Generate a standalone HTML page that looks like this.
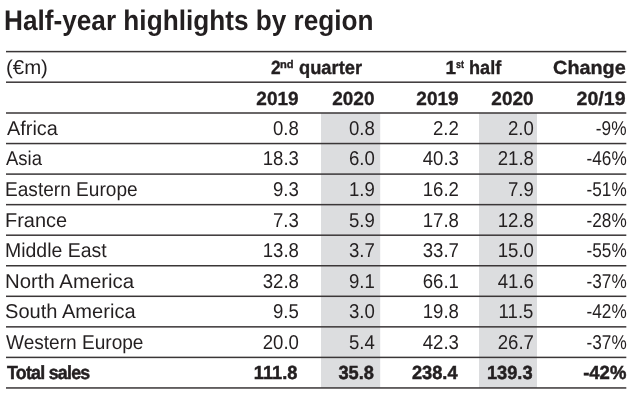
<!DOCTYPE html>
<html><head><meta charset="utf-8"><style>
html,body{margin:0;padding:0;background:#fff;}
body{width:640px;height:406px;position:relative;overflow:hidden;font-family:"Liberation Sans", Arial, sans-serif;color:#231f20;text-rendering:geometricPrecision;}
.t{position:absolute;white-space:nowrap;}
sup{font-size:58%;line-height:0;vertical-align:0;position:relative;top:-0.62em;margin-left:0.5px;}
svg{position:absolute;left:0;top:0;}
</style></head><body>
<svg width="640" height="406" viewBox="0 0 640 406"><rect x="321" y="113.00" width="59.20" height="274.95" fill="#dcdddf"/><rect x="479" y="113.00" width="58.00" height="274.95" fill="#dcdddf"/><rect x="6" y="50.85" width="620.30" height="1.5" fill="#3a3637"/><rect x="6" y="81.45" width="620.30" height="1.5" fill="#3a3637"/><rect x="6" y="112.25" width="620.30" height="1.5" fill="#3a3637"/><rect x="6" y="142.80" width="620.30" height="1.5" fill="#3a3637"/><rect x="6" y="173.35" width="620.30" height="1.5" fill="#3a3637"/><rect x="6" y="203.90" width="620.30" height="1.5" fill="#3a3637"/><rect x="6" y="234.45" width="620.30" height="1.5" fill="#3a3637"/><rect x="6" y="265.00" width="620.30" height="1.5" fill="#3a3637"/><rect x="6" y="295.55" width="620.30" height="1.5" fill="#3a3637"/><rect x="6" y="326.10" width="620.30" height="1.5" fill="#3a3637"/><rect x="6" y="356.65" width="620.30" height="1.5" fill="#3a3637"/><rect x="6" y="387.20" width="620.30" height="1.5" fill="#3a3637"/></svg>
<div id="title" class="t" style="left:4.44px;top:6.00px;font-size:28.3px;line-height:28.3px;font-weight:700;transform:scaleX(0.9255);transform-origin:left center;">Half-year highlights by region</div>
<div id="em" class="t" style="left:5.93px;top:58.00px;font-size:20px;line-height:20px;font-weight:400;transform:scaleX(1.0195);transform-origin:left center;">(€m)</div>
<div id="q2a" class="t" style="left:271.00px;top:59.00px;font-size:19px;line-height:19px;font-weight:700;transform:scaleX(0.9124);transform-origin:left center;-webkit-text-stroke:0.35px #231f20;">2</div>
<div id="q2b" class="t" style="left:280.03px;top:60.00px;font-size:11px;line-height:11px;font-weight:700;transform:scaleX(1.0128);transform-origin:left center;-webkit-text-stroke:0.35px #231f20;">nd</div>
<div id="q2c" class="t" style="left:299.49px;top:59.00px;font-size:19px;line-height:19px;font-weight:700;transform:scaleX(0.9631);transform-origin:left center;-webkit-text-stroke:0.35px #231f20;">quarter</div>
<div id="h1a" class="t" style="left:445.60px;top:59.00px;font-size:19px;line-height:19px;font-weight:700;-webkit-text-stroke:0.35px #231f20;">1</div>
<div id="h1b" class="t" style="left:455.89px;top:60.00px;font-size:11px;line-height:11px;font-weight:700;transform:scaleX(0.8031);transform-origin:left center;-webkit-text-stroke:0.35px #231f20;">st</div>
<div id="h1c" class="t" style="left:468.65px;top:59.00px;font-size:19px;line-height:19px;font-weight:700;transform:scaleX(0.9539);transform-origin:left center;-webkit-text-stroke:0.35px #231f20;">half</div>
<div id="chg" class="t" style="right:13.88px;text-align:right;top:59.00px;font-size:19px;line-height:19px;font-weight:700;transform:scaleX(1.0419);transform-origin:right center;-webkit-text-stroke:0.35px #231f20;">Change</div>
<div id="h2_0" class="t" style="right:341.40px;text-align:right;top:90.00px;font-size:19px;line-height:19px;font-weight:700;-webkit-text-stroke:0.35px #231f20;">2019</div>
<div id="h2_1" class="t" style="right:265.50px;text-align:right;top:90.00px;font-size:19px;line-height:19px;font-weight:700;-webkit-text-stroke:0.35px #231f20;">2020</div>
<div id="h2_2" class="t" style="right:181.40px;text-align:right;top:90.00px;font-size:19px;line-height:19px;font-weight:700;-webkit-text-stroke:0.35px #231f20;">2019</div>
<div id="h2_3" class="t" style="right:106.40px;text-align:right;top:90.00px;font-size:19px;line-height:19px;font-weight:700;-webkit-text-stroke:0.35px #231f20;">2020</div>
<div id="h2_4" class="t" style="right:14.67px;text-align:right;top:90.00px;font-size:19px;line-height:19px;font-weight:700;transform:scaleX(1.0301);transform-origin:right center;-webkit-text-stroke:0.35px #231f20;">20/19</div>
<div id="lab0" class="t" style="left:6.96px;top:119.00px;font-size:20px;line-height:20px;font-weight:400;transform:scaleX(0.9936);transform-origin:left center;">Africa</div>
<div id="v0_0" class="t" style="right:341.40px;text-align:right;top:119.00px;font-size:20px;line-height:20px;font-weight:400;transform:scaleX(0.9300);transform-origin:right center;">0.8</div>
<div id="v0_1" class="t" style="right:265.50px;text-align:right;top:119.00px;font-size:20px;line-height:20px;font-weight:400;transform:scaleX(0.9300);transform-origin:right center;">0.8</div>
<div id="v0_2" class="t" style="right:181.40px;text-align:right;top:119.00px;font-size:20px;line-height:20px;font-weight:400;transform:scaleX(0.9300);transform-origin:right center;">2.2</div>
<div id="v0_3" class="t" style="right:106.40px;text-align:right;top:119.00px;font-size:20px;line-height:20px;font-weight:400;transform:scaleX(0.9300);transform-origin:right center;">2.0</div>
<div id="v0_4" class="t" style="right:13.26px;text-align:right;top:119.00px;font-size:20px;line-height:20px;font-weight:400;transform:scaleX(0.8637);transform-origin:right center;">-9%</div>
<div id="lab1" class="t" style="left:6.30px;top:149.00px;font-size:20px;line-height:20px;font-weight:400;transform:scaleX(0.9245);transform-origin:left center;">Asia</div>
<div id="v1_0" class="t" style="right:341.40px;text-align:right;top:149.00px;font-size:20px;line-height:20px;font-weight:400;transform:scaleX(0.9300);transform-origin:right center;">18.3</div>
<div id="v1_1" class="t" style="right:265.50px;text-align:right;top:149.00px;font-size:20px;line-height:20px;font-weight:400;transform:scaleX(0.9300);transform-origin:right center;">6.0</div>
<div id="v1_2" class="t" style="right:181.40px;text-align:right;top:149.00px;font-size:20px;line-height:20px;font-weight:400;transform:scaleX(0.9300);transform-origin:right center;">40.3</div>
<div id="v1_3" class="t" style="right:106.40px;text-align:right;top:149.00px;font-size:20px;line-height:20px;font-weight:400;transform:scaleX(0.9300);transform-origin:right center;">21.8</div>
<div id="v1_4" class="t" style="right:13.65px;text-align:right;top:149.00px;font-size:20px;line-height:20px;font-weight:400;transform:scaleX(0.8595);transform-origin:right center;">-46%</div>
<div id="lab2" class="t" style="left:5.40px;top:180.00px;font-size:20px;line-height:20px;font-weight:400;transform:scaleX(0.9542);transform-origin:left center;">Eastern Europe</div>
<div id="v2_0" class="t" style="right:341.40px;text-align:right;top:180.00px;font-size:20px;line-height:20px;font-weight:400;transform:scaleX(0.9300);transform-origin:right center;">9.3</div>
<div id="v2_1" class="t" style="right:265.50px;text-align:right;top:180.00px;font-size:20px;line-height:20px;font-weight:400;transform:scaleX(0.9300);transform-origin:right center;">1.9</div>
<div id="v2_2" class="t" style="right:181.40px;text-align:right;top:180.00px;font-size:20px;line-height:20px;font-weight:400;transform:scaleX(0.9300);transform-origin:right center;">16.2</div>
<div id="v2_3" class="t" style="right:106.40px;text-align:right;top:180.00px;font-size:20px;line-height:20px;font-weight:400;transform:scaleX(0.9300);transform-origin:right center;">7.9</div>
<div id="v2_4" class="t" style="right:13.65px;text-align:right;top:180.00px;font-size:20px;line-height:20px;font-weight:400;transform:scaleX(0.8595);transform-origin:right center;">-51%</div>
<div id="lab3" class="t" style="left:5.20px;top:211.00px;font-size:20px;line-height:20px;font-weight:400;transform:scaleX(0.9977);transform-origin:left center;">France</div>
<div id="v3_0" class="t" style="right:341.40px;text-align:right;top:211.00px;font-size:20px;line-height:20px;font-weight:400;transform:scaleX(0.9300);transform-origin:right center;">7.3</div>
<div id="v3_1" class="t" style="right:265.50px;text-align:right;top:211.00px;font-size:20px;line-height:20px;font-weight:400;transform:scaleX(0.9300);transform-origin:right center;">5.9</div>
<div id="v3_2" class="t" style="right:181.40px;text-align:right;top:211.00px;font-size:20px;line-height:20px;font-weight:400;transform:scaleX(0.9300);transform-origin:right center;">17.8</div>
<div id="v3_3" class="t" style="right:106.40px;text-align:right;top:211.00px;font-size:20px;line-height:20px;font-weight:400;transform:scaleX(0.9300);transform-origin:right center;">12.8</div>
<div id="v3_4" class="t" style="right:13.65px;text-align:right;top:211.00px;font-size:20px;line-height:20px;font-weight:400;transform:scaleX(0.8595);transform-origin:right center;">-28%</div>
<div id="lab4" class="t" style="left:4.85px;top:241.00px;font-size:20px;line-height:20px;font-weight:400;transform:scaleX(0.9728);transform-origin:left center;">Middle East</div>
<div id="v4_0" class="t" style="right:341.40px;text-align:right;top:241.00px;font-size:20px;line-height:20px;font-weight:400;transform:scaleX(0.9300);transform-origin:right center;">13.8</div>
<div id="v4_1" class="t" style="right:265.50px;text-align:right;top:241.00px;font-size:20px;line-height:20px;font-weight:400;transform:scaleX(0.9300);transform-origin:right center;">3.7</div>
<div id="v4_2" class="t" style="right:181.40px;text-align:right;top:241.00px;font-size:20px;line-height:20px;font-weight:400;transform:scaleX(0.9300);transform-origin:right center;">33.7</div>
<div id="v4_3" class="t" style="right:106.40px;text-align:right;top:241.00px;font-size:20px;line-height:20px;font-weight:400;transform:scaleX(0.9300);transform-origin:right center;">15.0</div>
<div id="v4_4" class="t" style="right:13.65px;text-align:right;top:241.00px;font-size:20px;line-height:20px;font-weight:400;transform:scaleX(0.8595);transform-origin:right center;">-55%</div>
<div id="lab5" class="t" style="left:4.67px;top:272.00px;font-size:20px;line-height:20px;font-weight:400;transform:scaleX(1.0184);transform-origin:left center;">North America</div>
<div id="v5_0" class="t" style="right:341.40px;text-align:right;top:272.00px;font-size:20px;line-height:20px;font-weight:400;transform:scaleX(0.9300);transform-origin:right center;">32.8</div>
<div id="v5_1" class="t" style="right:265.50px;text-align:right;top:272.00px;font-size:20px;line-height:20px;font-weight:400;transform:scaleX(0.9300);transform-origin:right center;">9.1</div>
<div id="v5_2" class="t" style="right:181.40px;text-align:right;top:272.00px;font-size:20px;line-height:20px;font-weight:400;transform:scaleX(0.9300);transform-origin:right center;">66.1</div>
<div id="v5_3" class="t" style="right:106.40px;text-align:right;top:272.00px;font-size:20px;line-height:20px;font-weight:400;transform:scaleX(0.9300);transform-origin:right center;">41.6</div>
<div id="v5_4" class="t" style="right:13.65px;text-align:right;top:272.00px;font-size:20px;line-height:20px;font-weight:400;transform:scaleX(0.8595);transform-origin:right center;">-37%</div>
<div id="lab6" class="t" style="left:4.72px;top:302.00px;font-size:20px;line-height:20px;font-weight:400;transform:scaleX(1.0043);transform-origin:left center;">South America</div>
<div id="v6_0" class="t" style="right:341.40px;text-align:right;top:302.00px;font-size:20px;line-height:20px;font-weight:400;transform:scaleX(0.9300);transform-origin:right center;">9.5</div>
<div id="v6_1" class="t" style="right:265.50px;text-align:right;top:302.00px;font-size:20px;line-height:20px;font-weight:400;transform:scaleX(0.9300);transform-origin:right center;">3.0</div>
<div id="v6_2" class="t" style="right:181.40px;text-align:right;top:302.00px;font-size:20px;line-height:20px;font-weight:400;transform:scaleX(0.9300);transform-origin:right center;">19.8</div>
<div id="v6_3" class="t" style="right:106.40px;text-align:right;top:302.00px;font-size:20px;line-height:20px;font-weight:400;transform:scaleX(0.9300);transform-origin:right center;">11.5</div>
<div id="v6_4" class="t" style="right:13.65px;text-align:right;top:302.00px;font-size:20px;line-height:20px;font-weight:400;transform:scaleX(0.8595);transform-origin:right center;">-42%</div>
<div id="lab7" class="t" style="left:5.75px;top:333.00px;font-size:20px;line-height:20px;font-weight:400;transform:scaleX(0.9537);transform-origin:left center;">Western Europe</div>
<div id="v7_0" class="t" style="right:341.40px;text-align:right;top:333.00px;font-size:20px;line-height:20px;font-weight:400;transform:scaleX(0.9300);transform-origin:right center;">20.0</div>
<div id="v7_1" class="t" style="right:265.50px;text-align:right;top:333.00px;font-size:20px;line-height:20px;font-weight:400;transform:scaleX(0.9300);transform-origin:right center;">5.4</div>
<div id="v7_2" class="t" style="right:181.40px;text-align:right;top:333.00px;font-size:20px;line-height:20px;font-weight:400;transform:scaleX(0.9300);transform-origin:right center;">42.3</div>
<div id="v7_3" class="t" style="right:106.40px;text-align:right;top:333.00px;font-size:20px;line-height:20px;font-weight:400;transform:scaleX(0.9300);transform-origin:right center;">26.7</div>
<div id="v7_4" class="t" style="right:13.65px;text-align:right;top:333.00px;font-size:20px;line-height:20px;font-weight:400;transform:scaleX(0.8595);transform-origin:right center;">-37%</div>
<div id="lab8" class="t" style="left:6.58px;top:364.00px;font-size:19px;line-height:19px;font-weight:700;transform:scaleX(0.9370);transform-origin:left center;-webkit-text-stroke:0.5px #231f20;letter-spacing:-0.8px;">Total sales</div>
<div id="v8_0" class="t" style="right:342.20px;text-align:right;top:364.00px;font-size:19px;line-height:19px;font-weight:700;transform:scaleX(0.9600);transform-origin:right center;-webkit-text-stroke:0.5px #231f20;">111.8</div>
<div id="v8_1" class="t" style="right:266.30px;text-align:right;top:364.00px;font-size:19px;line-height:19px;font-weight:700;transform:scaleX(0.9600);transform-origin:right center;-webkit-text-stroke:0.5px #231f20;">35.8</div>
<div id="v8_2" class="t" style="right:182.20px;text-align:right;top:364.00px;font-size:19px;line-height:19px;font-weight:700;transform:scaleX(0.9600);transform-origin:right center;-webkit-text-stroke:0.5px #231f20;">238.4</div>
<div id="v8_3" class="t" style="right:107.20px;text-align:right;top:364.00px;font-size:19px;line-height:19px;font-weight:700;transform:scaleX(0.9600);transform-origin:right center;-webkit-text-stroke:0.5px #231f20;">139.3</div>
<div id="v8_4" class="t" style="right:13.93px;text-align:right;top:364.00px;font-size:19px;line-height:19px;font-weight:700;transform:scaleX(0.9738);transform-origin:right center;-webkit-text-stroke:0.5px #231f20;">-42%</div>
</body></html>
